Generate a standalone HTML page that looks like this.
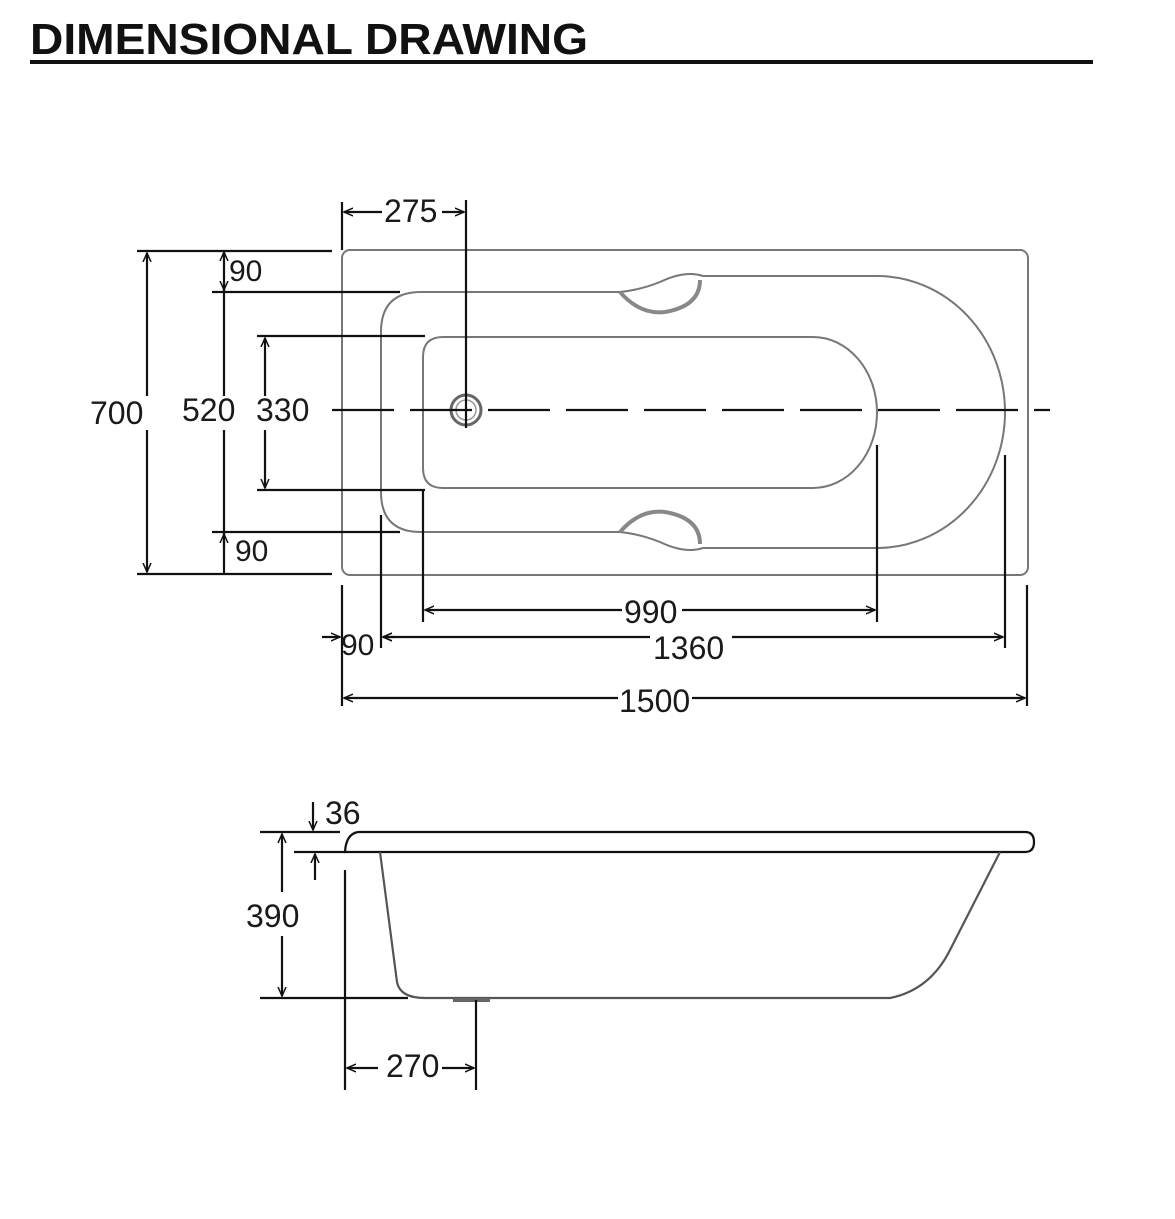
<!DOCTYPE html>
<html><head><meta charset="utf-8"><style>
html,body{margin:0;padding:0;background:#fff;}
svg{display:block;}
text{font-family:"Liberation Sans",Arial,sans-serif;fill:#1a1a1a;}
</style></head><body>
<svg width="1175" height="1219" viewBox="0 0 1175 1219" xmlns="http://www.w3.org/2000/svg">
<defs>
<marker id="a" markerWidth="10" markerHeight="10" refX="9" refY="5" orient="auto-start-reverse" markerUnits="userSpaceOnUse">
<path d="M0,1 L9,5 L0,9" fill="none" stroke="#111" stroke-width="1.5"/>
</marker>
</defs>
<text x="30" y="54" font-size="44" font-weight="bold" textLength="558" lengthAdjust="spacingAndGlyphs" style="fill:#111">DIMENSIONAL DRAWING</text>
<rect x="30" y="60" width="1063" height="4" fill="#111"/>

<g fill="none" stroke="#777" stroke-width="2">
<rect x="342" y="250" width="686" height="325" rx="8"/>
<path d="M620,292 L421,292 Q381,292 381,332 L381,492 Q381,532 421,532 L620,532"/>
<path d="M703,276 L877,276 A128,136 0 0 1 877,548 L703,548"/>
<path d="M813,337 L443,337 Q423,337 423,357 L423,468 Q423,488 443,488 L813,488 A64,75.5 0 0 0 813,337"/>
<path d="M620,292 Q640,290 660,282 Q685,270 703,276" />
<path d="M620,292 Q640,315 665,312 Q700,306 700,280" stroke-width="4" stroke="#888"/>
<path d="M620,532 Q640,534 660,542 Q685,554 703,548"/>
<path d="M620,532 Q640,509 665,512 Q700,518 700,544" stroke-width="4" stroke="#888"/>
<circle cx="466" cy="410" r="15" stroke-width="3" stroke="#666"/>
<circle cx="466" cy="410" r="10" stroke-width="1.5" stroke="#999"/>
</g>

<g stroke="#111" stroke-width="2.2" fill="none">
<line x1="330" y1="410" x2="1050" y2="410" stroke-dasharray="62,16" stroke-dashoffset="-2"/>
<line x1="137" y1="251" x2="332" y2="251"/>
<line x1="137" y1="574" x2="332" y2="574"/>
<line x1="147" y1="253" x2="147" y2="396" marker-start="url(#a)"/>
<line x1="147" y1="430" x2="147" y2="572" marker-end="url(#a)"/>
<line x1="212" y1="292" x2="400" y2="292"/>
<line x1="212" y1="532" x2="400" y2="532"/>
<line x1="224" y1="255" x2="224" y2="396"/>
<line x1="224" y1="430" x2="224" y2="575"/>
<line x1="224" y1="258" x2="224" y2="252" marker-end="url(#a)"/>
<line x1="224" y1="282" x2="224" y2="290" marker-end="url(#a)"/>
<line x1="224" y1="548" x2="224" y2="534" marker-end="url(#a)"/>
<line x1="257" y1="336" x2="425" y2="336"/>
<line x1="257" y1="490" x2="425" y2="490"/>
<line x1="265" y1="338" x2="265" y2="396" marker-start="url(#a)"/>
<line x1="265" y1="430" x2="265" y2="488" marker-end="url(#a)"/>
<line x1="342" y1="202" x2="342" y2="250"/>
<line x1="466" y1="200" x2="466" y2="428"/>
<line x1="344" y1="212" x2="382" y2="212" marker-start="url(#a)"/>
<line x1="442" y1="212" x2="464" y2="212" marker-end="url(#a)"/>
<line x1="423" y1="490" x2="423" y2="622"/>
<line x1="877" y1="445" x2="877" y2="622"/>
<line x1="425" y1="610" x2="622" y2="610" marker-start="url(#a)"/>
<line x1="682" y1="610" x2="875" y2="610" marker-end="url(#a)"/>
<line x1="381" y1="515" x2="381" y2="648"/>
<line x1="1005" y1="455" x2="1005" y2="648"/>
<line x1="383" y1="637" x2="650" y2="637" marker-start="url(#a)"/>
<line x1="732" y1="637" x2="1003" y2="637" marker-end="url(#a)"/>
<line x1="322" y1="637" x2="340" y2="637" marker-end="url(#a)"/>
<line x1="395" y1="637" x2="383" y2="637" marker-end="url(#a)"/>
<line x1="342" y1="585" x2="342" y2="706"/>
<line x1="1027" y1="585" x2="1027" y2="706"/>
<line x1="344" y1="698" x2="618" y2="698" marker-start="url(#a)"/>
<line x1="692" y1="698" x2="1025" y2="698" marker-end="url(#a)"/>
</g>

<g font-size="32">
<text x="90" y="424">700</text>
<text x="182" y="421">520</text>
<text x="256" y="421">330</text>
<text x="229" y="281" font-size="30">90</text>
<text x="235" y="561" font-size="30">90</text>
<text x="384" y="222">275</text>
<text x="624" y="623">990</text>
<text x="653" y="659">1360</text>
<text x="341" y="655" font-size="30">90</text>
<text x="619" y="712">1500</text>
</g>

<g fill="none" stroke="#111" stroke-width="2.2">
<path d="M358,832 L1025,832 Q1034,832 1034,842 Q1034,852 1025,852 L345,852 Q346,834 358,832"/>
<path d="M380,852 L397,982 Q400,998 425,998 L890,998 Q930,990 950,950 L1000,852" stroke="#555"/>
<line x1="453" y1="1000" x2="490" y2="1000" stroke-width="4" stroke="#666"/>
<line x1="260" y1="832" x2="340" y2="832"/>
<line x1="294" y1="852" x2="345" y2="852"/>
<line x1="260" y1="998" x2="408" y2="998"/>
<line x1="282" y1="834" x2="282" y2="892" marker-start="url(#a)"/>
<line x1="282" y1="936" x2="282" y2="996" marker-end="url(#a)"/>
<line x1="313" y1="802" x2="313" y2="830" marker-end="url(#a)"/>
<line x1="315" y1="880" x2="315" y2="854" marker-end="url(#a)"/>
<line x1="345" y1="870" x2="345" y2="1090"/>
<line x1="476" y1="1000" x2="476" y2="1090"/>
<line x1="347" y1="1068" x2="378" y2="1068" marker-start="url(#a)"/>
<line x1="442" y1="1068" x2="474" y2="1068" marker-end="url(#a)"/>
</g>
<g font-size="32">
<text x="325" y="824">36</text>
<text x="246" y="927">390</text>
<text x="386" y="1077">270</text>
</g>
</svg>
</body></html>
